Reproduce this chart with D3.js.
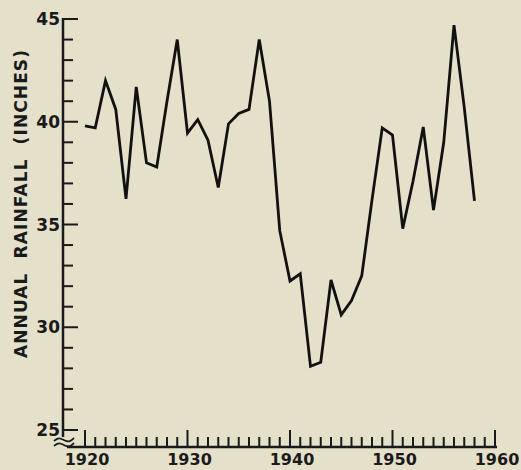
<!DOCTYPE html>
<html><head><meta charset="utf-8">
<script src="https://cdn.jsdelivr.net/npm/d3@7"></script>
<style>
html,body{margin:0;padding:0;background:#e4e0ca;}
svg{display:block;}
text{font-family:"DejaVu Sans",sans-serif;font-weight:bold;fill:#1a1a1a;}
</style></head>
<body>
<script>
const years = d3.range(1920, 1959);
const rainfall = [39.8, 39.7, 42.0, 40.6, 36.25, 41.7, 38.0, 37.8, 41.0, 44.0,
  39.45, 40.1, 39.1, 36.8, 39.9, 40.4, 40.6, 44.0, 41.0, 34.7,
  32.25, 32.6, 28.1, 28.3, 32.3, 30.6, 31.3, 32.5, 36.2, 39.7,
  39.35, 34.8, 37.1, 39.75, 35.7, 39.0, 44.7, 40.7, 36.15];
const yTickLabels = [25, 30, 35, 40, 45];
const xTickLabels = [1920, 1930, 1940, 1950, 1960];
const yTitle = "ANNUAL  RAINFALL  (INCHES)";

const W = 521, H = 470;
const svg = d3.select("body").append("svg").attr("width", W).attr("height", H);
svg.append("rect").attr("width", W).attr("height", H).attr("fill", "#e4e0ca");

const x = d3.scaleLinear().domain([1920, 1960]).range([85, 495]);
const y = d3.scaleLinear().domain([25, 45]).range([430, 19]);
const ink = "#1a1a1a";
const axisX = 63, baseY = 447;

// y axis line
svg.append("line").attr("x1", axisX).attr("x2", axisX).attr("y1", y(45) - 1).attr("y2", 437)
  .attr("stroke", ink).attr("stroke-width", 2.5);
// y ticks
const yMinor = d3.range(25, 46, 1);
svg.selectAll(".yt").data(yMinor).enter().append("line")
  .attr("x1", axisX).attr("x2", d => d % 5 === 0 ? axisX + 15 : axisX + 10)
  .attr("y1", d => y(d)).attr("y2", d => y(d))
  .attr("stroke", ink).attr("stroke-width", 2);
svg.selectAll(".yl").data(yTickLabels).enter().append("text")
  .attr("x", 60).attr("y", d => y(d)).attr("dy", "0.36em")
  .attr("text-anchor", "end").attr("font-size", 17).text(d => d);

// break symbol
const brk = d3.line().curve(d3.curveBasis);
[439, 444].forEach(yy => {
  svg.append("path").attr("d", brk([[54, yy + 2], [59, yy - 2], [65, yy + 2], [70, yy + 3], [74, yy - 1]]))
    .attr("fill", "none").attr("stroke", ink).attr("stroke-width", 1.8);
});

// x axis baseline
svg.append("line").attr("x1", 67).attr("x2", x(1960) + 2).attr("y1", baseY).attr("y2", baseY)
  .attr("stroke", ink).attr("stroke-width", 2.5);
const xMinor = d3.range(1920, 1961, 1);
svg.selectAll(".xt").data(xMinor).enter().append("line")
  .attr("x1", d => x(d)).attr("x2", d => x(d))
  .attr("y1", baseY).attr("y2", d => d % 10 === 0 ? baseY - 17 : baseY - 10)
  .attr("stroke", ink).attr("stroke-width", 2);
svg.selectAll(".xl").data(xTickLabels).enter().append("text")
  .attr("x", d => x(d) + 2).attr("y", 465)
  .attr("text-anchor", "middle").attr("font-size", 16).text(d => d);

// y title
svg.append("text")
  .attr("transform", "translate(27,204) rotate(-90)")
  .attr("text-anchor", "middle").attr("font-size", 17)
  .attr("textLength", 308).attr("lengthAdjust", "spacing")
  .style("white-space", "pre")
  .text(yTitle);

// data line
const line = d3.line().x((d, i) => x(years[i])).y(d => y(d));
svg.append("path").datum(rainfall).attr("d", line)
  .attr("fill", "none").attr("stroke", "#111").attr("stroke-width", 2.8)
  .attr("stroke-linejoin", "miter");
</script>
</body></html>
